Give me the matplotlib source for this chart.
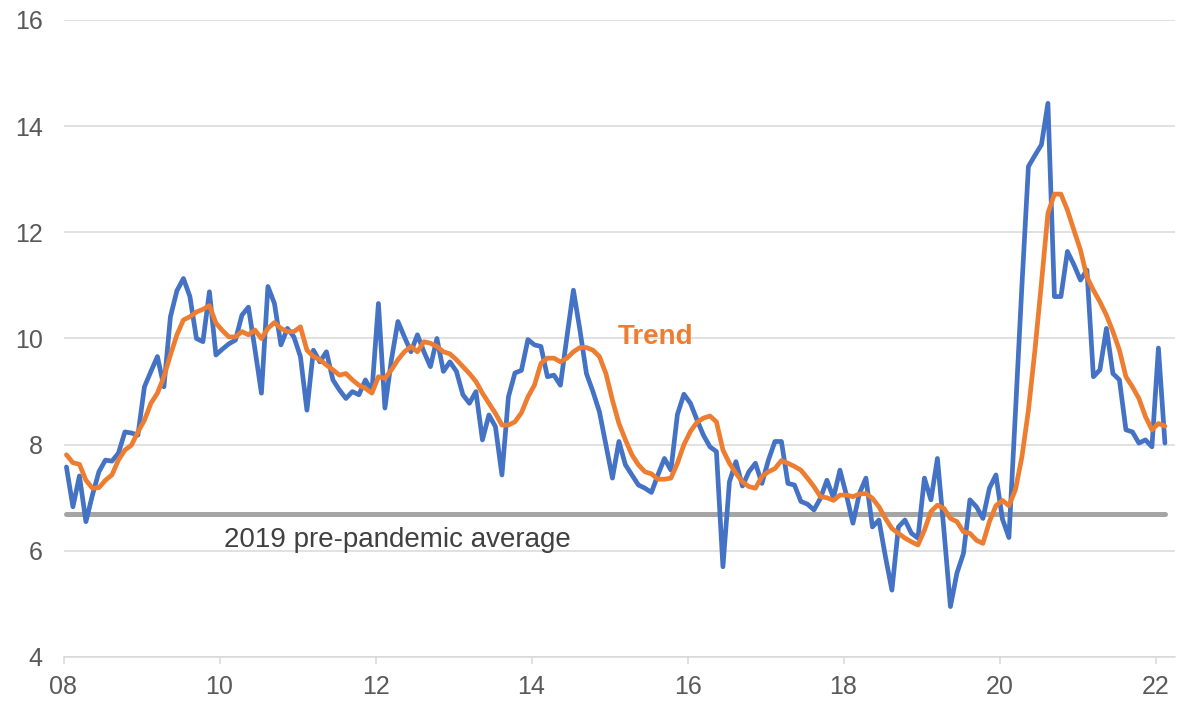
import numpy as np
import matplotlib
matplotlib.use("Agg")
import matplotlib.pyplot as plt

plt.rcParams['font.family'] = ['Liberation Sans', 'DejaVu Sans']

start_year = 2008
monthly = [
    7.58, 6.83, 7.41, 6.55, 7.05, 7.49, 7.71, 7.69, 7.84, 8.24, 8.22, 8.18,
    9.09, 9.38, 9.66, 9.09, 10.41, 10.90, 11.13, 10.79, 10.00, 9.94, 10.88, 9.69,
    9.80, 9.90, 9.97, 10.44, 10.59, 9.80, 8.97, 10.98, 10.66, 9.88, 10.19, 10.03,
    9.66, 8.65, 9.78, 9.56, 9.75, 9.22, 9.03, 8.87, 9.00, 8.94, 9.22, 9.00,
    10.66, 8.69, 9.60, 10.32, 10.03, 9.75, 10.07, 9.75, 9.47, 10.00, 9.38, 9.56,
    9.38, 8.94, 8.78, 9.00, 8.09, 8.56, 8.34, 7.43, 8.90, 9.35, 9.40, 9.98,
    9.88, 9.85, 9.28, 9.31, 9.12, 10.03, 10.91, 10.16, 9.34, 9.00, 8.62, 7.99,
    7.37, 8.06, 7.62, 7.43, 7.24, 7.18, 7.10, 7.43, 7.74, 7.52, 8.57, 8.95,
    8.78, 8.47, 8.18, 7.96, 7.87, 5.70, 7.30, 7.68, 7.22, 7.49, 7.65, 7.27,
    7.71, 8.06, 8.06, 7.27, 7.24, 6.93, 6.88, 6.77, 6.99, 7.33, 7.00, 7.52,
    7.05, 6.52, 7.08, 7.37, 6.45, 6.58, 5.89, 5.26, 6.45, 6.58, 6.33, 6.24,
    7.37, 6.96, 7.74, 6.39, 4.95, 5.58, 5.95, 6.96, 6.83, 6.61, 7.18, 7.43,
    6.60, 6.25, 8.60, 11.00, 13.24, 13.45, 13.65, 14.43, 10.79, 10.79, 11.64, 11.39,
    11.10, 11.29, 9.28, 9.41, 10.19, 9.34, 9.22, 8.28, 8.24, 8.03, 8.09, 7.96,
    9.82, 8.03,
]
trend = [
    7.81, 7.66, 7.63, 7.33, 7.18, 7.19, 7.33, 7.43, 7.71, 7.90, 7.99, 8.24,
    8.46, 8.78, 8.97, 9.28, 9.69, 10.07, 10.35, 10.41, 10.50, 10.55, 10.62, 10.29,
    10.15, 10.03, 10.03, 10.13, 10.07, 10.16, 10.00, 10.19, 10.30, 10.19, 10.13, 10.13,
    10.22, 9.78, 9.66, 9.60, 9.50, 9.41, 9.31, 9.34, 9.22, 9.12, 9.06, 8.97,
    9.28, 9.25, 9.41, 9.60, 9.75, 9.85, 9.75, 9.94, 9.91, 9.85, 9.75, 9.71,
    9.60, 9.47, 9.34, 9.19, 8.97, 8.78, 8.59, 8.37, 8.37, 8.43, 8.60, 8.90,
    9.12, 9.53, 9.63, 9.63, 9.56, 9.63, 9.75, 9.83, 9.83, 9.78, 9.66, 9.34,
    8.84, 8.40, 8.09, 7.81, 7.62, 7.49, 7.45, 7.35, 7.35, 7.37, 7.65, 8.00,
    8.25, 8.42, 8.50, 8.54, 8.43, 7.90, 7.65, 7.46, 7.30, 7.21, 7.18, 7.40,
    7.49, 7.55, 7.70, 7.65, 7.59, 7.52, 7.37, 7.21, 7.02, 7.00, 6.95, 7.05,
    7.05, 7.02, 7.07, 7.08, 6.99, 6.83, 6.61, 6.42, 6.33, 6.24, 6.17, 6.11,
    6.39, 6.74, 6.86, 6.80, 6.61, 6.55, 6.36, 6.33, 6.20, 6.14, 6.55, 6.85,
    6.95, 6.85, 7.15, 7.77, 8.65, 9.78, 11.04, 12.36, 12.72, 12.72, 12.42, 12.04,
    11.67, 11.16, 10.91, 10.69, 10.44, 10.13, 9.78, 9.28, 9.09, 8.87, 8.53, 8.28,
    8.40, 8.35,
]
pre_pandemic_avg = 6.7
xtick_years = [2008, 2010, 2012, 2014, 2016, 2018, 2020, 2022]
xtick_labels = ['08', '10', '12', '14', '16', '18', '20', '22']
yticks = [4, 6, 8, 10, 12, 14, 16]

x = start_year + (np.arange(len(monthly)) + 0.45) / 12.0

fig = plt.figure(figsize=(11.77, 7.01), dpi=100)
ax = fig.add_axes([63.5 / 1177, 44 / 701, (1175 - 63.5) / 1177, (657 - 20) / 701])

ax.set_xlim(2008, 2022.25)
ax.set_ylim(4, 16)

ax.plot([x[0], x[-1]], [pre_pandemic_avg, pre_pandemic_avg], color='#A5A5A5',
        lw=3.6, solid_capstyle='round', zorder=2)
ax.plot(x, monthly, color='#4472C4', lw=3.4, solid_joinstyle='round',
        solid_capstyle='round', zorder=3)
ax.plot(x, trend, color='#ED7D31', lw=3.4, solid_joinstyle='round',
        solid_capstyle='round', zorder=4)

ax.set_yticks(yticks)
ax.set_xticks(xtick_years)
ax.set_xticklabels(xtick_labels)
ax.grid(axis='y', color='#D9D9D9', lw=1.1)
ax.set_axisbelow(True)
for s in ['top', 'right', 'left']:
    ax.spines[s].set_visible(False)
ax.spines['bottom'].set_color('#D9D9D9')
ax.spines['bottom'].set_linewidth(1.1)
ax.tick_params(axis='y', length=0, pad=15, labelsize=18, labelcolor='#595959')
ax.tick_params(axis='x', length=5, width=1.1, color='#D9D9D9', pad=8,
               labelsize=18, labelcolor='#595959')

ax.text(2010.06, 6.2, '2019 pre-pandemic average', fontsize=20, color='#404040',
        ha='left', va='center')
ax.text(2015.10, 10.03, 'Trend', fontsize=20, color='#ED7D31', fontweight='bold',
        ha='left', va='center')

fig.savefig('out.png', dpi=100)
